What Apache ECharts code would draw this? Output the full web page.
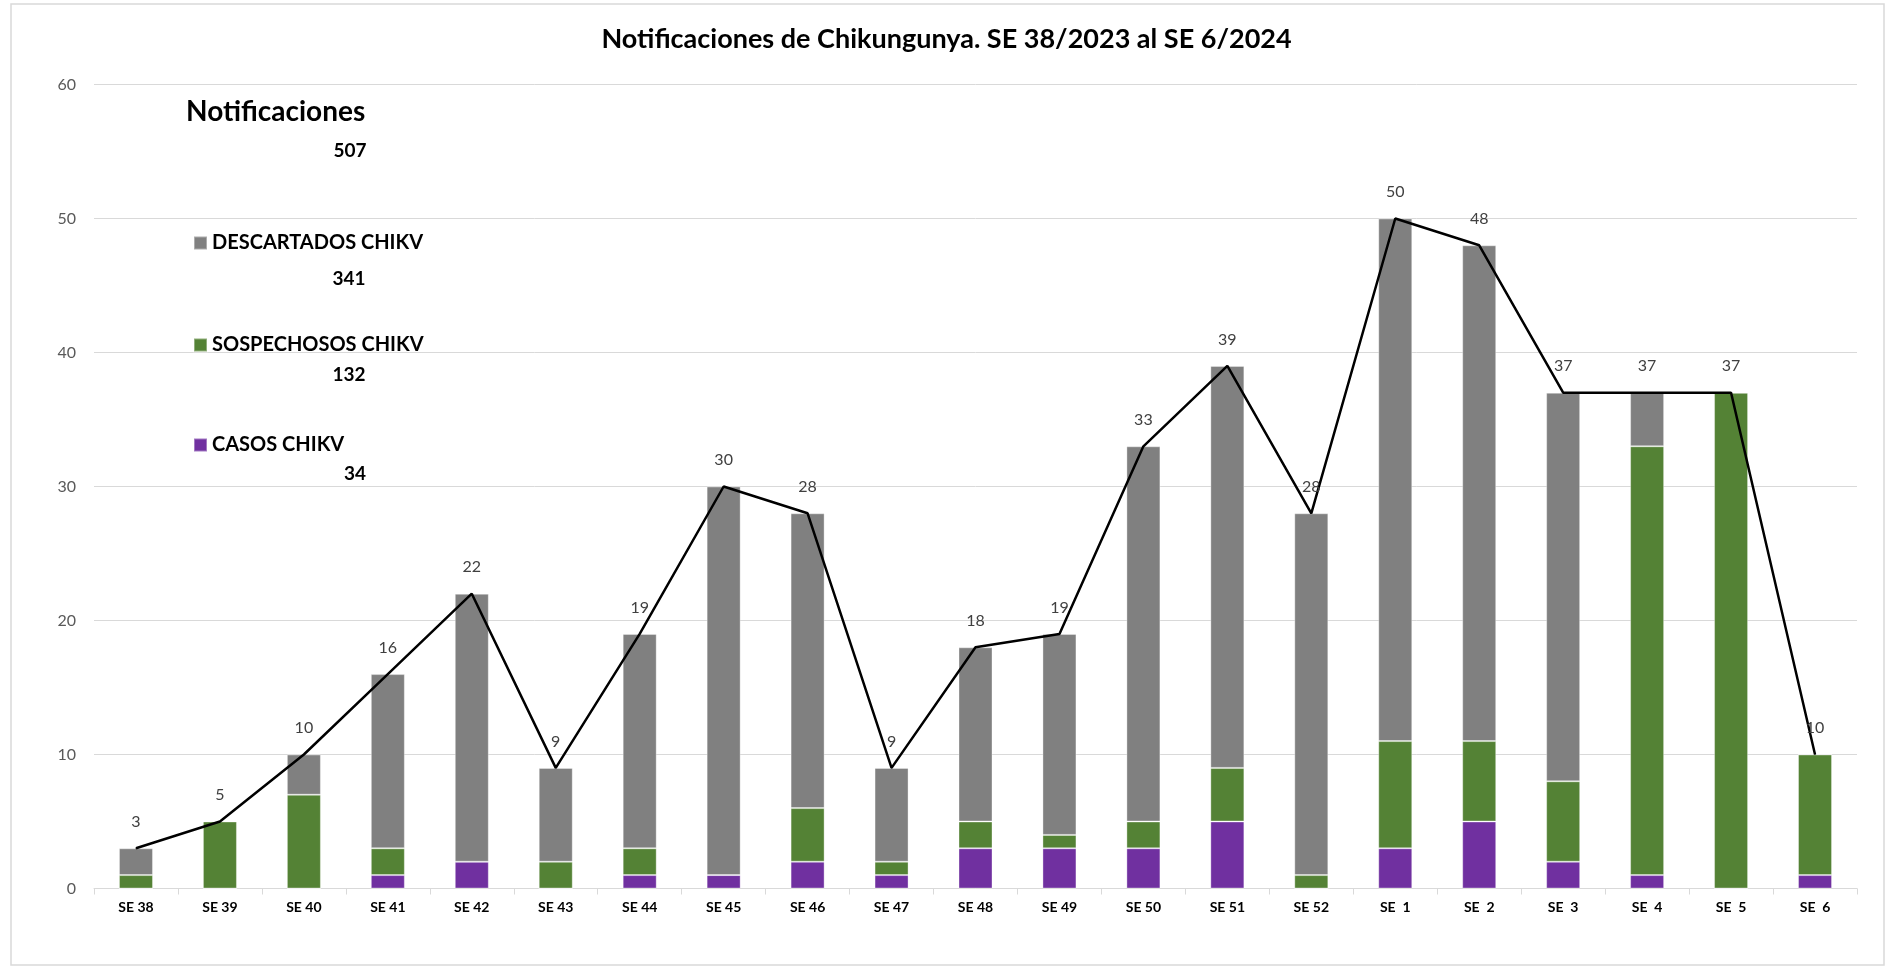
<!DOCTYPE html>
<html><head><meta charset="utf-8">
<script src="https://cdn.jsdelivr.net/npm/echarts@6/dist/echarts.min.js"></script>
<style>html,body{margin:0;padding:0;background:#fff}#c{width:1893px;height:970px}</style>
</head><body><div id="c"></div>
<script>
const categories = ['SE 38','SE 39','SE 40','SE 41','SE 42','SE 43','SE 44','SE 45','SE 46','SE 47','SE 48','SE 49','SE 50','SE 51','SE 52','SE  1','SE  2','SE  3','SE  4','SE  5','SE  6'];
const casos = [0,0,0,1,2,0,1,1,2,1,3,3,3,5,0,3,5,2,1,0,1];
const sospechosos = [1,5,7,2,0,2,2,0,4,1,2,1,2,4,1,8,6,6,32,37,9];
const descartados = [2,0,3,13,20,7,16,29,22,7,13,15,28,30,27,39,37,29,4,0,0];
const totales = [3,5,10,16,22,9,19,30,28,9,18,19,33,39,28,50,48,37,37,37,10];
const yTicks = {min:0, max:60, interval:10};

const sum = a => a.reduce((s,v)=>s+v,0);
const FONT = 'Lato';
const chart = echarts.init(document.getElementById('c'));
function legendAt(name, top){
  return {data:[name], left:193, top:top, orient:'vertical', padding:0, itemWidth:13, itemHeight:13,
    icon:'rect', textStyle:{fontFamily:FONT, fontWeight:'bold', fontSize:20, color:'#000', lineHeight:22}};
}
chart.setOption({
  animation:false,
  title:{text:'Notificaciones de Chikungunya. SE 38/2023 al SE 6/2024', left:'center', top:21,
    textStyle:{fontFamily:FONT, fontWeight:'bold', fontSize:27, color:'#000'}},
  legend:[legendAt('DESCARTADOS CHIKV',232), legendAt('SOSPECHOSOS CHIKV',334), legendAt('CASOS CHIKV',434)],
  grid:{left:94, right:36, top:84.5, bottom:81.5},
  xAxis:{type:'category', data:categories,
    axisLine:{lineStyle:{color:'#d9d9d9', width:1}},
    axisTick:{show:true, length:6, lineStyle:{color:'#d9d9d9'}},
    axisLabel:{fontFamily:FONT, fontWeight:'bold', fontSize:14, color:'#000', margin:12}},
  yAxis:{type:'value', min:yTicks.min, max:yTicks.max, interval:yTicks.interval,
    axisLine:{show:false}, axisTick:{show:false},
    splitLine:{lineStyle:{color:'#d9d9d9', width:1}},
    axisLabel:{fontFamily:FONT, fontSize:16, color:'#595959', margin:18}},
  graphic:[
    {type:'rect', shape:{x:11, y:4, width:1873, height:961}, style:{fill:'none', stroke:'#d9d9d9', lineWidth:1.5}, silent:true},
    {type:'text', left:186, top:98, style:{text:'Notificaciones', fontFamily:FONT, fontWeight:'bold', fontSize:28, fill:'#000'}},
    {type:'text', x:350, y:151, style:{text:String(sum(totales)), fontFamily:FONT, fontWeight:'bold', fontSize:19, fill:'#000', align:'center', verticalAlign:'middle'}},
    {type:'text', x:349, y:279, style:{text:String(sum(descartados)), fontFamily:FONT, fontWeight:'bold', fontSize:19, fill:'#000', align:'center', verticalAlign:'middle'}},
    {type:'text', x:349, y:375, style:{text:String(sum(sospechosos)), fontFamily:FONT, fontWeight:'bold', fontSize:19, fill:'#000', align:'center', verticalAlign:'middle'}},
    {type:'text', x:355, y:474, style:{text:String(sum(casos)), fontFamily:FONT, fontWeight:'bold', fontSize:19, fill:'#000', align:'center', verticalAlign:'middle'}}
  ],
  series:[
    {name:'CASOS CHIKV', type:'bar', stack:'t', data:casos, barWidth:34,
      itemStyle:{color:'#7030A0', borderColor:'rgba(255,255,255,0.35)', borderWidth:1}},
    {name:'SOSPECHOSOS CHIKV', type:'bar', stack:'t', data:sospechosos, barWidth:34,
      itemStyle:{color:'#548235', borderColor:'rgba(255,255,255,0.35)', borderWidth:1}},
    {name:'DESCARTADOS CHIKV', type:'bar', stack:'t', data:descartados, barWidth:34,
      itemStyle:{color:'#808080', borderColor:'rgba(255,255,255,0.35)', borderWidth:1}},
    {name:'Total', type:'line', data:totales, symbol:'circle', symbolSize:1, z:5,
      lineStyle:{color:'#000', width:2.5}, itemStyle:{color:'#000'},
      label:{show:true, position:'top', distance:18, fontFamily:FONT, fontSize:16, color:'#404040'}}
  ]
});
</script></body></html>
